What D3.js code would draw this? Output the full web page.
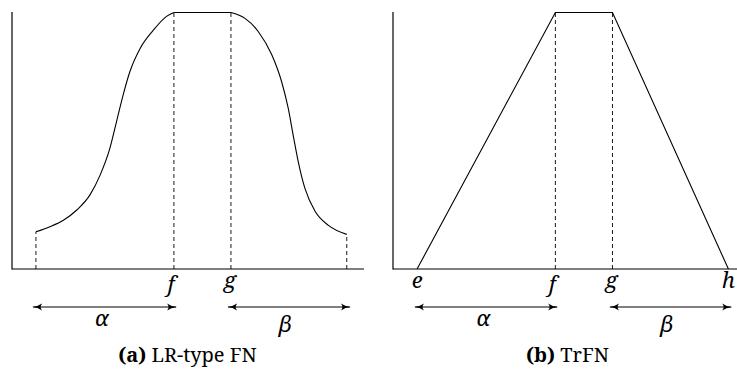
<!DOCTYPE html>
<html>
<head>
<meta charset="utf-8">
<script src="https://cdn.jsdelivr.net/npm/d3@7"></script>
<style>
  body { margin: 0; background: white; }
  svg { display: block; }
</style>
</head>
<body>
<div id="vis"></div>
<script>
// LR-type fuzzy number (x in 0..100, membership 0..1)
const lrLeftX = [6.8, 10.8, 14.6, 18.4, 22.2, 25.0, 27.8, 29.7, 31.6, 33.5, 36.4, 40.1, 43.9, 46.0]
const lrLeftY = [0.145, 0.165, 0.19, 0.23, 0.29, 0.365, 0.47, 0.575, 0.68, 0.77, 0.86, 0.93, 0.985, 1.0]
const lrRightX = [62.2, 66.2, 70.0, 73.8, 76.6, 78.5, 79.9, 81.3, 83.2, 86.1, 89.9, 95.1]
const lrRightY = [1.0, 0.977, 0.925, 0.835, 0.73, 0.625, 0.52, 0.42, 0.315, 0.225, 0.17, 0.135]
const lrCore = [46.0, 62.2]           // f, g
const lrSpreads = [[6.0, 46.6], [61.4, 96.0]]   // alpha, beta arrows

// trapezoidal fuzzy number
const trX = [7.0, 47.2, 63.8, 97.5]   // e, f, g, h
const trY = [0, 1, 1, 0]
const trLabels = ["e", "f", "g", "h"]
const trSpreads = [[6.4, 47.7], [63.1, 98.3]]

const spreadLabels = ["α", "β"]
const captions = [["(a)", " LR-type FN"], ["(b)", " TrFN"]]

const FONT = "Noto Serif"

const svg = d3.select("#vis")
    .append("svg")
    .attr("width", 737)
    .attr("height", 379)

svg.append("defs").append("marker")
    .attr("id", "tip")
    .attr("viewBox", "0 -4 10 8")
    .attr("refX", 9)
    .attr("refY", 0)
    .attr("markerWidth", 10)
    .attr("markerHeight", 8)
    .attr("markerUnits", "userSpaceOnUse")
    .attr("orient", "auto-start-reverse")
    .append("path")
    .attr("d", "M0,-3.5 Q4,-0.5 10,0 Q4,0.5 0,3.5 Q3,0 0,-3.5 Z")
    .attr("fill", "black")

const Y = d3.scaleLinear().domain([0, 1]).range([269, 12.5])
const X1 = d3.scaleLinear().domain([0, 100]).range([12, 364])
const X2 = d3.scaleLinear().domain([0, 100]).range([393, 737])

// axes (just the domain lines)
function axes(x) {
    svg.append("line")
        .attr("x1", x(0)).attr("x2", x(0))
        .attr("y1", Y(0) + 0.5).attr("y2", 12)
        .attr("stroke", "black").attr("stroke-width", 1.2)
    svg.append("line")
        .attr("x1", x(0)).attr("x2", x(100))
        .attr("y1", Y(0)).attr("y2", Y(0))
        .attr("stroke", "black").attr("stroke-width", 1.2)
}
axes(X1)
axes(X2)

function dashed(x, xv, yv) {
    svg.append("line")
        .attr("x1", x(xv)).attr("x2", x(xv))
        .attr("y1", Y(0)).attr("y2", Y(yv))
        .attr("stroke", "black")
        .attr("stroke-width", 0.9)
        .attr("stroke-dasharray", "4,3")
}

function mathText(x, y, s) {
    svg.append("text")
        .attr("x", x).attr("y", y)
        .attr("font-family", FONT)
        .attr("font-style", "italic")
        .attr("font-size", 22)
        .attr("text-anchor", "middle")
        .text(s)
}

// --- panel a ---
const leftPts = lrLeftX.map((d, i) => [d, lrLeftY[i]])
const rightPts = lrRightX.map((d, i) => [d, lrRightY[i]])
const smooth = d3.line()
    .x(d => X1(d[0]))
    .y(d => Y(d[1]))
    .curve(d3.curveMonotoneX)

svg.append("path").attr("d", smooth(leftPts))
    .attr("fill", "none").attr("stroke", "black").attr("stroke-width", 1.1)
svg.append("path").attr("d", smooth(rightPts))
    .attr("fill", "none").attr("stroke", "black").attr("stroke-width", 1.1)
svg.append("line")
    .attr("x1", X1(lrCore[0])).attr("x2", X1(lrCore[1]))
    .attr("y1", Y(1)).attr("y2", Y(1))
    .attr("stroke", "black").attr("stroke-width", 1.1)

dashed(X1, lrLeftX[0], lrLeftY[0])
dashed(X1, lrCore[0], 1)
dashed(X1, lrCore[1], 1)
dashed(X1, lrRightX[lrRightX.length - 1], lrRightY[lrRightY.length - 1])

mathText(X1(lrCore[0]) - 3, 292, "f")
mathText(X1(lrCore[1]) - 1, 288, "g")

// --- panel b ---
const straight = d3.line()
    .x((d, i) => X2(d))
    .y((d, i) => Y(trY[i]))
svg.append("path").attr("d", straight(trX))
    .attr("fill", "none").attr("stroke", "black").attr("stroke-width", 1.1)

dashed(X2, trX[1], 1)
dashed(X2, trX[2], 1)

trLabels.forEach((d, i) => {
    mathText(X2(trX[i]) + (d == "f" ? -3 : d == "g" ? -1 : 0), d == "f" ? 292 : 288, d)
})

// spread arrows + greek labels
function spreads(x, spans) {
    spans.forEach((s, i) => {
        svg.append("line")
            .attr("x1", x(s[0])).attr("x2", x(s[1]))
            .attr("y1", 307).attr("y2", 307)
            .attr("stroke", "black").attr("stroke-width", 1)
            .attr("marker-start", "url(#tip)")
            .attr("marker-end", "url(#tip)")
        mathText(x(s[0]) + (x(s[1]) - x(s[0])) * (i == 0 ? 0.48 : 0.47),
            i == 0 ? 326 : 332, spreadLabels[i])
    })
}
spreads(X1, lrSpreads)
spreads(X2, trSpreads)

// captions
const capX = [187.5, 567.5]
captions.forEach((c, i) => {
    const t = svg.append("text")
        .attr("x", capX[i]).attr("y", 362)
        .attr("font-family", FONT)
        .attr("font-size", 20)
        .attr("text-anchor", "middle")
    t.append("tspan").attr("font-weight", "bold").text(c[0])
    t.append("tspan").text(c[1])
})
</script>
</body>
</html>
